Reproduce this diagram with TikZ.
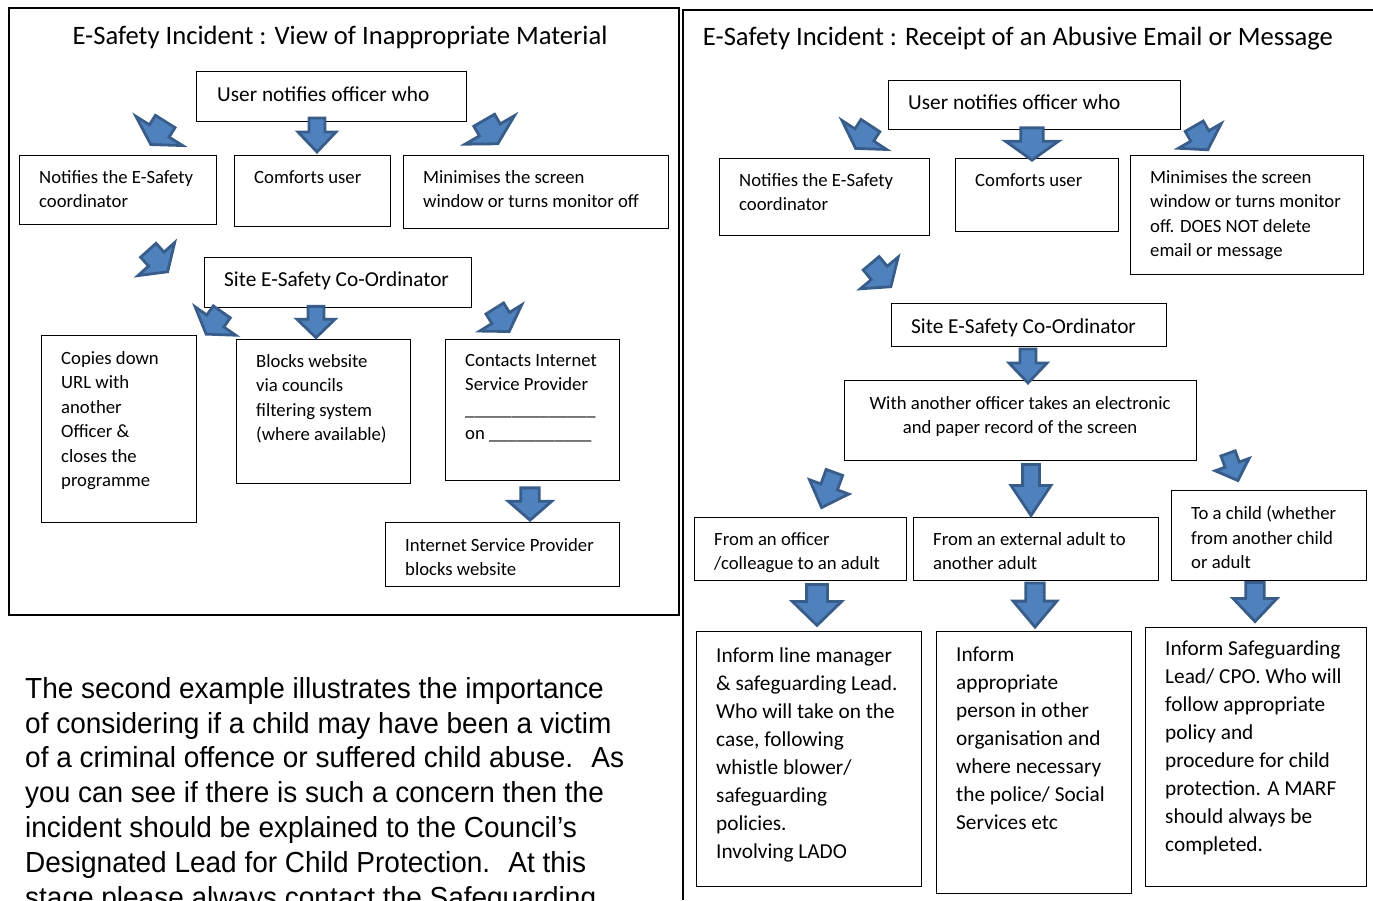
\documentclass[tikz,border=0pt]{standalone}
\usepackage{fontspec}
\setmainfont{Carlito}
\newfontfamily\parafont[FakeStretch=0.965]{Liberation Sans}
\definecolor{arrfill}{HTML}{4F81BD}
\definecolor{arrline}{HTML}{385D8A}
\tikzset{
  box/.style={draw=black, line width=1.2pt, rectangle, inner sep=0pt, anchor=north west},
  txt/.style={font=\fontsize{18.7}{24.5}\selectfont, align=left, inner sep=0pt, anchor=north west},
  midtxt/.style={txt, font=\fontsize{21.3}{26}\selectfont},
  bigtxt/.style={font=\fontsize{21.3}{28}\selectfont, align=left, inner sep=0pt, anchor=north west},
  ttl/.style={font=\fontsize{26.6}{30}\selectfont, inner sep=0pt},
  arr/.style={fill=arrfill, draw=arrline, line width=2.8pt, line join=miter, miter limit=4},
  pics/barrow/.style={code={
    \path[arr] (-8,-17) -- (8,-17) -- (8,-3) -- (19,-3) -- (0,17) -- (-19,-3) -- (-8,-3) -- cycle;}}
}
\begin{document}
\begin{tikzpicture}[x=1pt,y=-1pt]
\useasboundingbox (0,0) rectangle (1373,900);
\clip (0,0) rectangle (1373,900);

% ---------- left panel ----------
\draw[line width=1.2pt] (9,8) rectangle (679,615);
\node[ttl] (ltitle) at (340,37.5) {E-Safety Incident : View of Inappropriate Material};

\node[box, minimum width=270, minimum height=50] (l1) at (196,71) {};
\node[midtxt] (l1t) at (217,87) {User notifies officer who};

\node[box, minimum width=197, minimum height=69] (l2) at (19,155) {};
\node[txt] (l2t) at (39,170) {Notifies the E-Safety\\coordinator};

\node[box, minimum width=156, minimum height=71] (l3) at (234,155) {};
\node[txt] (l3t) at (254,170) {Comforts user};

\node[box, minimum width=265, minimum height=73] (l4) at (403,155) {};
\node[txt] (l4t) at (423,170) {Minimises the screen\\window or turns monitor off};

\node[box, minimum width=267, minimum height=50] (l5) at (204,257) {};
\node[midtxt] (l5t) at (224,272) {Site E-Safety Co-Ordinator};

\node[box, minimum width=155, minimum height=187] (l6) at (41,335) {};
\node[txt] (l6t) at (61,351) {Copies down\\URL with\\another\\Officer \&\\closes the\\programme};

\node[box, minimum width=174, minimum height=144] (l7) at (236,339) {};
\node[txt] (l7t) at (256,354) {Blocks website\\via councils\\filtering system\\(where available)};

\node[box, minimum width=174, minimum height=141] (l8) at (445,339) {};
\node[txt] (l8t) at (465,354) {Contacts Internet\\Service Provider\\\_\_\_\_\_\_\_\_\_\_\_\_\_\_\\on \_\_\_\_\_\_\_\_\_\_\_};

\node[box, minimum width=234, minimum height=64] (l9) at (385,522) {};
\node[txt] (l9t) at (405,538) {Internet Service Provider\\blocks website};

% left arrows
\pic[rotate=-32, xscale=1.45, yscale=0.8] at (158,133) {barrow};
\pic at (317,135) {barrow};
\pic[rotate=30, xscale=1.5, yscale=0.8] at (491,132) {barrow};
\pic[rotate=42, xscale=1.3, yscale=0.85] at (158,261) {barrow};
\pic[rotate=-35, xscale=1.3, yscale=0.8] at (214,323) {barrow};
\pic[yscale=0.92] at (316,322) {barrow};
\pic[rotate=32, xscale=1.3, yscale=0.8] at (502,320) {barrow};
\pic[xscale=1.15, yscale=0.95] at (530,504) {barrow};

% ---------- paragraph ----------
\node[inner sep=0pt, anchor=north west, align=left, font=\parafont\fontsize{29}{34.8}\selectfont] (para) at (25,677)
{The second example illustrates the importance\\
of considering if a child may have been a victim\\
of a criminal offence or suffered child abuse.~ As\\
you can see if there is such a concern then the\\
incident should be explained to the Council’s\\
Designated Lead for Child Protection.~ At this\\
stage please always contact the Safeguarding};

% ---------- right panel ----------
\draw[line width=1.2pt] (1373,10) -- (683,10) -- (683,900);
\node[ttl] (rtitle) at (1018,38.5) {E-Safety Incident : Receipt of an Abusive Email or Message};

\node[box, minimum width=292, minimum height=49] (r1) at (888,80) {};
\node[midtxt] (r1t) at (908,95) {User notifies officer who};

\node[box, minimum width=210, minimum height=77] (r2) at (719,158) {};
\node[txt] (r2t) at (739,173) {Notifies the E-Safety\\coordinator};

\node[box, minimum width=163, minimum height=73] (r3) at (955,158) {};
\node[txt] (r3t) at (975,173) {Comforts user};

\node[box, minimum width=233, minimum height=119] (r4) at (1130,155) {};
\node[txt] (r4t) at (1150,170) {Minimises the screen\\window or turns monitor\\off. DOES NOT delete\\email or message};

\node[box, minimum width=275, minimum height=43] (r5) at (891,303) {};
\node[midtxt] (r5t) at (911,319) {Site E-Safety Co-Ordinator};

\node[box, minimum width=352, minimum height=80] (r6) at (844,380) {};
\node[txt, align=center, anchor=north] (r6t) at (1020,396) {With another officer takes an electronic\\and paper record of the screen};

\node[box, minimum width=212, minimum height=63] (r7) at (694,517) {};
\node[txt] (r7t) at (714,532) {From an officer\\/colleague to an adult};

\node[box, minimum width=245, minimum height=63] (r8) at (913,517) {};
\node[txt] (r8t) at (933,532) {From an external adult to\\another adult};

\node[box, minimum width=195, minimum height=90] (r9) at (1171,490) {};
\node[txt] (r9t) at (1191,506) {To a child (whether\\from another child\\or adult};

\node[box, minimum width=225, minimum height=255] (r10) at (696,631) {};
\node[bigtxt] (r10t) at (716,647) {Inform line manager\\\& safeguarding Lead.\\Who will take on the\\case, following\\whistle blower/\\safeguarding\\policies.\\Involving LADO};

\node[box, minimum width=195, minimum height=262] (r11) at (936,631) {};
\node[bigtxt] (r11t) at (956,647) {Inform\\appropriate\\person in other\\organisation and\\where necessary\\the police/ Social\\Services etc};

\node[box, minimum width=221, minimum height=259] (r12) at (1145,627) {};
\node[bigtxt] (r12t) at (1165,640) {Inform Safeguarding\\Lead/ CPO. Who will\\follow appropriate\\policy and\\procedure for child\\protection. A MARF\\should always be\\completed.};

% right arrows
\pic[rotate=-33, xscale=1.4, yscale=0.8] at (863,137) {barrow};
\pic[xscale=1.4, yscale=0.95] at (1032,144) {barrow};
\pic[rotate=30, xscale=1.3, yscale=0.8] at (1201,138) {barrow};
\pic[rotate=40, xscale=1.3, yscale=0.9] at (881,275) {barrow};
\pic at (1028,366) {barrow};
\pic[rotate=-20, xscale=1.1, yscale=1.1] at (828,490) {barrow};
\pic[xscale=1.05, yscale=1.5] at (1031,490) {barrow};
\pic[rotate=20, xscale=0.95, yscale=0.85] at (1233,467) {barrow};
\pic[xscale=1.3, yscale=1.2] at (817,605) {barrow};
\pic[xscale=1.15, yscale=1.3] at (1035,605) {barrow};
\pic[xscale=1.15, yscale=1.15] at (1255,602) {barrow};
\end{tikzpicture}
\end{document}
